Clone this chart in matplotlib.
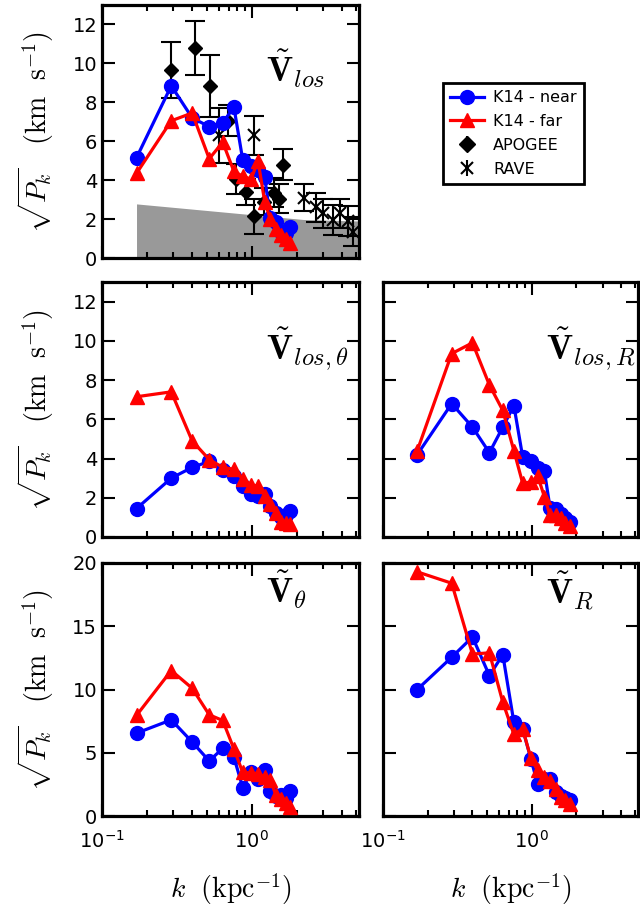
import matplotlib
matplotlib.use("Agg")
import matplotlib.pyplot as plt
from matplotlib.ticker import LogLocator, NullFormatter, MultipleLocator
from matplotlib.lines import Line2D

# wavenumber bins (kpc^-1)
k = [0.17, 0.29, 0.40, 0.52, 0.64, 0.76, 0.87, 0.99, 1.10, 1.22, 1.33, 1.45, 1.57, 1.68, 1.80]

# sqrt(P_k) in km/s, K14 near / far
los_near = [5.15, 8.85, 7.2, 6.75, 6.95, 7.75, 5.05, 4.75, 4.5, 4.15, 2.05, 1.85, 1.35, 1.3, 1.6]
los_far = [4.35, 7.05, 7.45, 5.1, 5.95, 4.45, 4.2, 4.05, 5.0, 2.9, 2.0, 1.5, 1.2, 1.0, 0.75]
lt_near = [1.45, 3.0, 3.55, 3.85, 3.4, 3.1, 2.6, 2.2, 2.1, 2.2, 1.6, 1.2, 1.0, 1.1, 1.35]
lt_far = [7.15, 7.4, 4.9, 3.95, 3.55, 3.45, 2.95, 2.65, 2.6, 2.1, 1.7, 1.2, 0.75, 0.7, 0.65]
lr_near = [4.2, 6.8, 5.6, 4.3, 5.6, 6.7, 4.1, 3.85, 3.5, 3.35, 1.5, 1.45, 1.15, 0.95, 0.75]
lr_far = [4.4, 9.35, 9.9, 7.75, 6.45, 4.4, 2.75, 2.8, 3.1, 2.05, 1.1, 1.1, 0.95, 0.7, 0.55]
th_near = [6.55, 7.6, 5.85, 4.35, 5.35, 4.65, 2.25, 3.45, 2.9, 3.6, 2.0, 1.6, 1.65, 1.4, 1.95]
th_far = [7.95, 11.5, 10.1, 8.0, 7.55, 5.3, 3.45, 3.4, 3.35, 3.1, 2.85, 1.65, 1.35, 1.0, 0.7]
r_near = [10.0, 12.55, 14.15, 11.1, 12.75, 7.4, 6.9, 4.5, 2.5, 2.95, 2.95, 1.9, 1.55, 1.4, 1.3]
r_far = [19.3, 18.4, 12.8, 12.9, 9.0, 6.45, 6.9, 4.55, 3.6, 3.1, 2.8, 2.15, 1.5, 1.25, 0.95]

# APOGEE (line of sight)
apo_k = [0.29, 0.415, 0.53, 0.69, 0.79, 0.92, 1.035, 1.2, 1.40, 1.52, 1.62]
apo_v = [9.65, 10.8, 8.85, 7.05, 4.05, 3.4, 2.15, 2.9, 3.35, 3.05, 4.8]
apo_e = [1.45, 1.4, 1.6, 0.8, 0.78, 0.66, 0.9, 0.7, 0.75, 0.75, 0.8]

# RAVE (line of sight)
rave_k = [0.60, 1.03, 2.22, 2.67, 2.99, 3.48, 3.86, 4.39, 4.73]
rave_v = [6.3, 6.3, 3.1, 2.6, 2.3, 1.95, 2.3, 1.9, 1.35]
rave_e = [1.4, 1.0, 0.7, 0.75, 0.75, 0.75, 0.75, 0.75, 0.75]

# noise floor (grey band)
noise_k = [0.17, 2.2, 5.2]
noise_v = [2.78, 1.98, 1.9]

W, H = 640.0, 910.0


def make_ax(x0, y0, x1, y1):
    ax = fig.add_axes([x0 / W, 1 - y1 / H, (x1 - x0) / W, (y1 - y0) / H])
    ax.set_xscale("log")
    ax.set_xlim(0.1, 5.2)
    for s in ax.spines.values():
        s.set_linewidth(2.3)
    ax.tick_params(which="both", direction="in", top=True, right=True, width=1.5, labelsize=14)
    ax.tick_params(which="major", length=9)
    ax.tick_params(which="minor", length=4.5)
    ax.xaxis.set_major_locator(LogLocator(base=10))
    ax.xaxis.set_minor_locator(LogLocator(base=10, subs=range(2, 10)))
    ax.xaxis.set_minor_formatter(NullFormatter())
    return ax


def plot_k14(ax, near, far):
    ax.plot(k, near, "o-", color="b", ms=10, lw=2.3, zorder=5)
    ax.plot(k, far, "^-", color="r", ms=10, lw=2.3, zorder=6)


def tag(ax, txt, y):
    ax.text(0.64, y, txt, transform=ax.transAxes, fontsize=25, ha="left", va="baseline",
            math_fontfamily="cm")


ylab = r"$\sqrt{P_k}\ \ \ (\mathrm{km\ \ s}^{-1})$"
xlab = r"$k\ \ (\mathrm{kpc}^{-1})$"

fig = plt.figure(figsize=(6.4, 9.1), dpi=100)

# top panel: line of sight
ax1 = make_ax(102, 5, 359, 258)
ax1.fill_between(noise_k, 0, noise_v, color="0.6", lw=0, zorder=1)
ax1.errorbar(apo_k, apo_v, yerr=apo_e, fmt="D", color="k", ms=7, capsize=7,
             elinewidth=1.5, capthick=1.5, zorder=3)
ax1.errorbar(rave_k, rave_v, yerr=rave_e, fmt="x", color="k", ms=8, mew=1.5, capsize=7,
             elinewidth=1.5, capthick=1.5, zorder=3)
plot_k14(ax1, los_near, los_far)
ax1.set_ylim(0, 13)
ax1.yaxis.set_major_locator(MultipleLocator(2))
ax1.set_xticklabels([])
ax1.set_ylabel(ylab, fontsize=20, math_fontfamily="cm", labelpad=12)
tag(ax1, r"$\tilde{\mathbf{V}}_{los}$", 0.695)

# middle row
ax2 = make_ax(102, 282, 359, 537)
plot_k14(ax2, lt_near, lt_far)
ax2.set_ylim(0, 13)
ax2.yaxis.set_major_locator(MultipleLocator(2))
ax2.set_xticklabels([])
ax2.set_ylabel(ylab, fontsize=20, math_fontfamily="cm", labelpad=12)
tag(ax2, r"$\tilde{\mathbf{V}}_{los,\theta}$", 0.695)

ax3 = make_ax(383, 282, 638, 537)
plot_k14(ax3, lr_near, lr_far)
ax3.set_ylim(0, 13)
ax3.yaxis.set_major_locator(MultipleLocator(2))
ax3.set_xticklabels([])
ax3.set_yticklabels([])
tag(ax3, r"$\tilde{\mathbf{V}}_{los,R}$", 0.695)

# bottom row
ax4 = make_ax(102, 563, 359, 816)
plot_k14(ax4, th_near, th_far)
ax4.set_ylim(0, 20)
ax4.yaxis.set_major_locator(MultipleLocator(5))
ax4.set_ylabel(ylab, fontsize=20, math_fontfamily="cm", labelpad=12)
ax4.set_xlabel(xlab, fontsize=20, math_fontfamily="cm", labelpad=14)
tag(ax4, r"$\tilde{\mathbf{V}}_{\theta}$", 0.84)

ax5 = make_ax(383, 563, 638, 816)
plot_k14(ax5, r_near, r_far)
ax5.set_ylim(0, 20)
ax5.yaxis.set_major_locator(MultipleLocator(5))
ax5.set_yticklabels([])
ax5.set_xlabel(xlab, fontsize=20, math_fontfamily="cm", labelpad=14)
tag(ax5, r"$\tilde{\mathbf{V}}_{R}$", 0.84)

for ax in (ax4, ax5):
    ax.tick_params(axis="x", which="major", pad=10)

# legend
h_near = Line2D([], [], color="b", marker="o", ms=10, lw=2.3)
h_far = Line2D([], [], color="r", marker="^", ms=10, lw=2.3)
h_apo = ax1.errorbar([], [], yerr=[], fmt="D", color="k", ms=8, capsize=6, elinewidth=1.5, capthick=1.5)
h_rave = ax1.errorbar([], [], yerr=[], fmt="x", color="k", ms=9, mew=1.5, capsize=6, elinewidth=1.5, capthick=1.5)
leg = fig.legend([h_near, h_far, h_apo, h_rave], ["K14 - near", "K14 - far", "APOGEE", "RAVE"],
                 loc="upper left", bbox_to_anchor=(443 / W, 1 - 83 / H), borderaxespad=0,
                 fontsize=11.5, fancybox=False, framealpha=1, edgecolor="k", handlelength=2.1,
                 borderpad=0.45, labelspacing=0.55, handletextpad=0.6)
leg.get_frame().set_linewidth(2)

fig.savefig("out.png", dpi=100)
